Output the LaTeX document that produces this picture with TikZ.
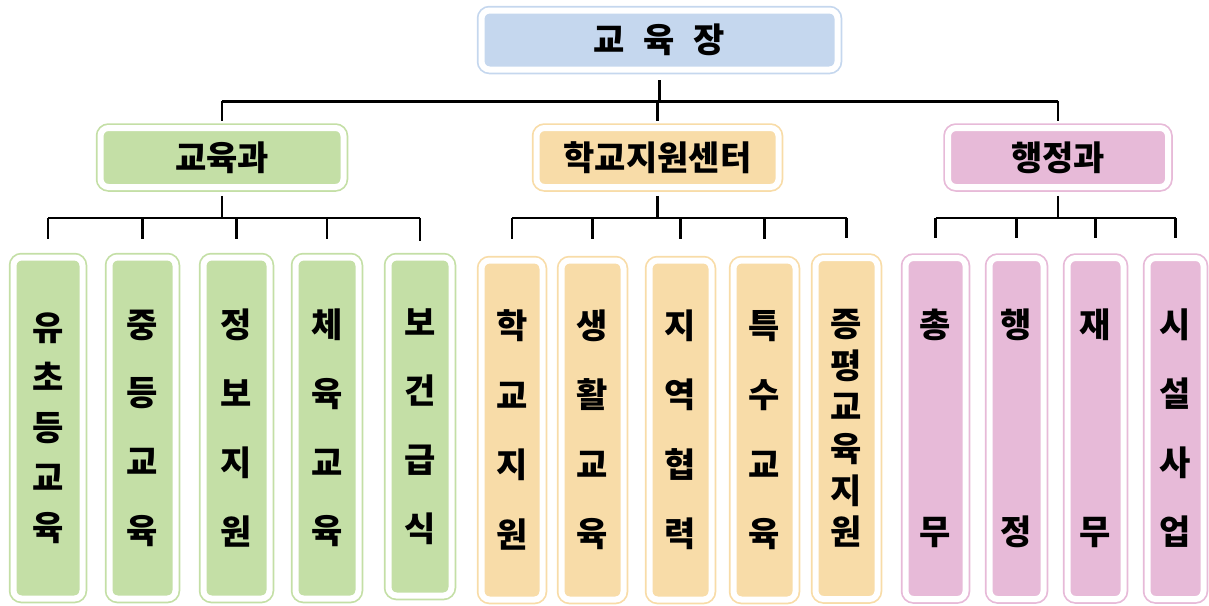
\documentclass[tikz,border=0pt]{standalone}
\usepackage{fontspec}
\newfontfamily\kr{Noto Sans CJK KR}[BoldFont={Noto Sans CJK KR Black}]
\newfontfamily\krwide{Noto Sans CJK KR}[BoldFont={Noto Sans CJK KR Black},WordSpace=2.4]
\definecolor{grn}{RGB}{196,223,166}
\definecolor{org}{RGB}{248,220,168}
\definecolor{pnk}{RGB}{231,186,216}
\definecolor{blu}{RGB}{197,215,238}
\tikzset{
  box/.style={draw=#1,fill=#1,double=white,double distance=6pt,line width=1.75pt,
    rounded corners=8pt,inner sep=0pt},
  head/.style={font=\kr\bfseries\fontsize{34}{40}\selectfont,minimum height=59pt},
  leaf/.style={font=\kr\bfseries\fontsize{34}{#1}\selectfont,align=center,minimum height=341pt},
  link/.style={line width=2.5pt,black}
}
\begin{document}
\begin{tikzpicture}[x=1pt,y=-1pt]
  \useasboundingbox (0,0) rectangle (1209,605);
  \node[box=blu,head,minimum width=356pt,font=\krwide\bfseries\fontsize{34}{40}\selectfont](chief) at (659.5,40){교 육 장};
  \node[box=grn,head,minimum width=243pt](edu) at (222,157.5){교육과};
  \node[box=org,head,minimum width=242pt](sup) at (657.5,157.5){학교지원센터};
  \node[box=pnk,head,minimum width=220pt](adm) at (1058,157.5){행정과};
  \node[box=grn,leaf=50,minimum width=69pt](e1) at (48,428){유\\초\\등\\교\\육};
  \node[box=grn,leaf=68.7,minimum width=66pt](e2) at (142.5,428){중\\등\\교\\육};
  \node[box=grn,leaf=68.7,minimum width=66pt](e3) at (236.5,428){정\\보\\지\\원};
  \node[box=grn,leaf=68.7,minimum width=63pt](e4) at (327,428){체\\육\\교\\육};
  \node[box=grn,leaf=68.7,minimum width=63pt,minimum height=338pt](e5) at (420,426.5){보\\건\\급\\식};
  \node[box=org,leaf=69.5,minimum width=61pt,minimum height=339pt](s1) at (512,430){학\\교\\지\\원};
  \node[box=org,leaf=69.5,minimum width=62pt,minimum height=339pt](s2) at (592.5,430){생\\활\\교\\육};
  \node[box=org,leaf=69.5,minimum width=62pt,minimum height=339pt](s3) at (680.5,430){지\\역\\협\\력};
  \node[box=org,leaf=69.5,minimum width=62pt,minimum height=339pt](s4) at (764.5,430){특\\수\\교\\육};
  \node[box=org,leaf=41.6,minimum width=62pt](s5) at (846.5,428.5){증\\평\\교\\육\\지\\원};
  \node[box=pnk,leaf=207,minimum width=60pt](a1) at (935.5,428.5){총\\무};
  \node[box=pnk,leaf=207,minimum width=54pt](a2) at (1016.5,428.5){행\\정};
  \node[box=pnk,leaf=207,minimum width=56pt](a3) at (1095.5,428.5){재\\무};
  \node[box=pnk,leaf=69,minimum width=56pt](a4) at (1175.5,428.5){시\\설\\사\\업};
  \draw[link,shorten <=10pt](chief.south) -- ++(0,31) coordinate(bus);
  \draw[link](bus -| edu) -- (bus -| adm);
  \draw[link,shorten >=6pt](bus -| edu.north) -- (edu.north);
  \draw[link,shorten >=6pt](bus -| sup.north) -- (sup.north);
  \draw[link,shorten >=6pt](bus -| adm.north) -- (adm.north);
  \draw[link,shorten <=8pt](edu.south) -- ++(0,30) coordinate(ebus);
  \draw[link](ebus -| e1) -- (ebus -| e5);
  \draw[link,shorten >=18pt](ebus -| e1.north) -- (e1.north);
  \draw[link,shorten >=18pt](ebus -| e2.north) -- (e2.north);
  \draw[link,shorten >=18pt](ebus -| e3.north) -- (e3.north);
  \draw[link,shorten >=18pt](ebus -| e4.north) -- (e4.north);
  \draw[link,shorten >=16pt](ebus -| e5.north) -- (e5.north);
  \draw[link,shorten <=8pt](sup.south) -- ++(0,30) coordinate(sbus);
  \draw[link](sbus -| s1) -- (sbus -| s5);
  \draw[link,shorten >=21pt](sbus -| s1.north) -- (s1.north);
  \draw[link,shorten >=21pt](sbus -| s2.north) -- (s2.north);
  \draw[link,shorten >=21pt](sbus -| s3.north) -- (s3.north);
  \draw[link,shorten >=21pt](sbus -| s4.north) -- (s4.north);
  \draw[link,shorten >=19pt](sbus -| s5.north) -- (s5.north);
  \draw[link,shorten <=8pt](adm.south) -- ++(0,30) coordinate(abus);
  \draw[link](abus -| a1) -- (abus -| a4);
  \draw[link,shorten >=19pt](abus -| a1.north) -- (a1.north);
  \draw[link,shorten >=19pt](abus -| a2.north) -- (a2.north);
  \draw[link,shorten >=19pt](abus -| a3.north) -- (a3.north);
  \draw[link,shorten >=19pt](abus -| a4.north) -- (a4.north);
\end{tikzpicture}
\end{document}
